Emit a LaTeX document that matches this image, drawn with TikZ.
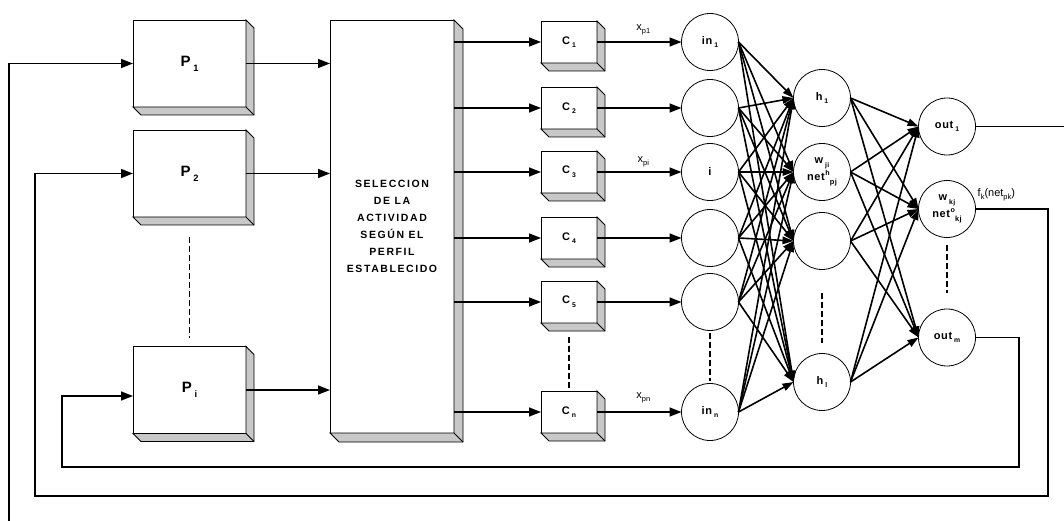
\documentclass[tikz,border=0pt]{standalone}
\usepackage{fontspec}
\usepackage{graphicx}
\setmainfont{Liberation Sans}
\newfontfamily\selfont[LetterSpace=15]{Liberation Sans}
\newfontfamily\lblfont[LetterSpace=6]{Liberation Sans}
\usetikzlibrary{arrows.meta,calc}
\definecolor{shade}{RGB}{200,200,200}
\newcommand\sbs[1]{\kern0.18em\raisebox{-0.33em}{\scalebox{0.62}{#1}}}
\newcommand\sbt[1]{\raisebox{-0.3em}{\scalebox{0.68}{#1}}}
\newcommand\sps[1]{\kern0.05em\raisebox{0.5em}{\scalebox{0.65}{#1}}}
\newcommand\boxshade[2][8]{%
  \filldraw[fill=shade,draw=black,line width=0.9pt] (#2.north east) -- ++(#1,#1) -- ($(#2.south east)+(#1,#1)$) -- ($(#2.south west)+(#1,#1)$) -- (#2.south west) -- (#2.south east) -- cycle;
  \draw[line width=0.9pt] (#2.south east) -- ++(#1,#1);}
\tikzset{
  pbox/.style={draw,fill=white,line width=0.9pt,inner sep=0pt,outer sep=0pt,minimum width=113pt,minimum height=87pt,font=\lblfont\bfseries\fontsize{15}{17}\selectfont},
  selbox/.style={draw,fill=white,line width=0.9pt,inner sep=0pt,outer sep=0pt,minimum width=124pt,minimum height=413pt,align=center,font=\selfont\bfseries\fontsize{10.5}{17}\selectfont},
  cbox/.style={draw,fill=white,line width=0.9pt,inner sep=0pt,outer sep=0pt,minimum width=56pt,minimum height=42pt,font=\lblfont\bfseries\fontsize{11}{13}\selectfont},
  neuron/.style={circle,draw,fill=white,line width=0.8pt,inner sep=0pt,outer sep=0pt,minimum size=57pt,align=center,font=\lblfont\bfseries\fontsize{11}{17}\selectfont},
  arr/.style={line width=1.6pt,-{Triangle[length=12pt,width=9pt]}},
  netarr/.style={line width=1.6pt,-{Triangle[length=11pt,width=7.5pt]}},
  fb/.style={line width=1.6pt},
  dots/.style={line width=1.8pt,dash pattern=on 6pt off 3pt},
  lbl/.style={font=\fontsize{11}{12}\selectfont,inner sep=0pt}
}
\begin{document}
\begin{tikzpicture}[x=1pt,y=-1pt]
\useasboundingbox (0,0) rectangle (1064,521);
% P boxes
\node[pbox] (p1) at (189.5,63.5) {P\sbs{1}};
\boxshade{p1}
\node[pbox] (p2) at (189.5,173.5) {P\sbs{2}};
\boxshade{p2}
\node[pbox] (pi) at (189.5,390) {P\sbs{i}};
\boxshade{pi}
\draw[dots] ($(p2.south)+(0,20)$) -- ($(pi.north)+(0,-9)$);
% selection box
\node[selbox] (sel) at (392,226.5) {SELECCION\\DE LA\\ACTIVIDAD\\SEGÚN EL\\PERFIL\\ESTABLECIDO};
\boxshade[9]{sel}
\draw[arr] (p1.east) -- (p1.east -| sel.west);
\draw[arr] (p2.east) -- (p2.east -| sel.west);
\draw[arr] (pi.east) -- (pi.east -| sel.west);
% C boxes
\node[cbox] (c1) at (569,42) {C\sbs{1}};
\boxshade{c1}
\node[cbox] (c2) at (569,108) {C\sbs{2}};
\boxshade{c2}
\node[cbox] (c3) at (569,172) {C\sbs{3}};
\boxshade{c3}
\node[cbox] (c4) at (569,238) {C\sbs{4}};
\boxshade{c4}
\node[cbox] (c5) at (569,302) {C\sbs{5}};
\boxshade{c5}
\node[cbox] (cn) at (569,412) {C\sbs{n}};
\boxshade{cn}
\draw[dots] (569,337) -- ($(cn.north)+(0,-3)$);
\foreach \c in {c1,c2,c3,c4,c5,cn} \draw[arr] (sel.east |- \c.west) -- (\c.west);
% input neurons
\node[neuron] (in1) at (710,42) {in\sbs{1}};
\node[neuron] (in2) at (710,108) {};
\node[neuron] (in3) at (710,172) {i};
\node[neuron] (in4) at (710,238) {};
\node[neuron] (in5) at (710,302) {};
\node[neuron] (inn) at (710,412) {in\sbs{n}};
\draw[dots] ($(in5.south)+(0,2)$) -- ($(inn.north)+(0,-3)$);
\draw[arr] (c1.east) -- (in1.west);
\draw[arr] (c2.east) -- (in2.west);
\draw[arr] (c3.east) -- (in3.west);
\draw[arr] (c4.east) -- (in4.west);
\draw[arr] (c5.east) -- (in5.west);
\draw[arr] (cn.east) -- (inn.west);
\node[lbl] (xp1) at ($(c1.east)!0.5!(in1.west)+(4,-12)$) {x\sbt{p1}};
\node[lbl] (xpi) at ($(c3.east)!0.5!(in3.west)+(4,-10)$) {x\sbt{pi}};
\node[lbl] (xpn) at ($(cn.east)!0.5!(inn.west)+(4,-14)$) {x\sbt{pn}};
% hidden neurons
\node[neuron] (h1) at (822,98) {h\sbs{1}};
\node[neuron] (h2) at (822,172) {w\sbs{ji}\\net\sps{h}\sbt{pj}};
\node[neuron] (h3) at (822,241) {};
\node[neuron] (hl) at (822,382) {h\sbs{l}};
\draw[dots] (822,293) -- (822,343);
% output neurons
\node[neuron] (o1) at (947,126.5) {out\sbs{1}};
\node[neuron] (o2) at (947,209) {w\sbs{kj}\\net\sps{o}\sbt{kj}};
\node[neuron] (om) at (947,337.5) {out\sbs{m}};
\draw[dots] (947,245) -- (947,293);
\node[lbl,anchor=west] (fk) at ($(o2.east)+(2,-14)$) {f\sbt{k}(net\sbt{pk})};
% connections
\foreach \a in {in1,in2,in3,in4,in5,inn}
  \foreach \b in {h1,h2,h3,hl}
    \draw[netarr] (\a.east) -- (\b.west);
\foreach \a in {h1,h2,h3,hl}
  \foreach \b in {o1,o2,om}
    \draw[netarr] (\a.east) -- (\b.west);
% feedback lines
\coordinate (e1) at (1064,0);
\draw[fb] (o1.east) -- (o1.east -| e1);
\coordinate (l1) at (9,521);
\draw[arr] (l1) |- (p1.west);
\coordinate (f2a) at (1048,496);
\coordinate (f2b) at (35,496);
\draw[arr] (o2.east) -| (f2a) -- (f2b) |- (p2.west);
\coordinate (f3a) at (1019,467);
\coordinate (f3b) at (62,467);
\coordinate (pin) at ($(pi.west)+(0,6)$);
\draw[arr] (om.east) -| (f3a) -- (f3b) |- (pin);
\end{tikzpicture}
\end{document}
